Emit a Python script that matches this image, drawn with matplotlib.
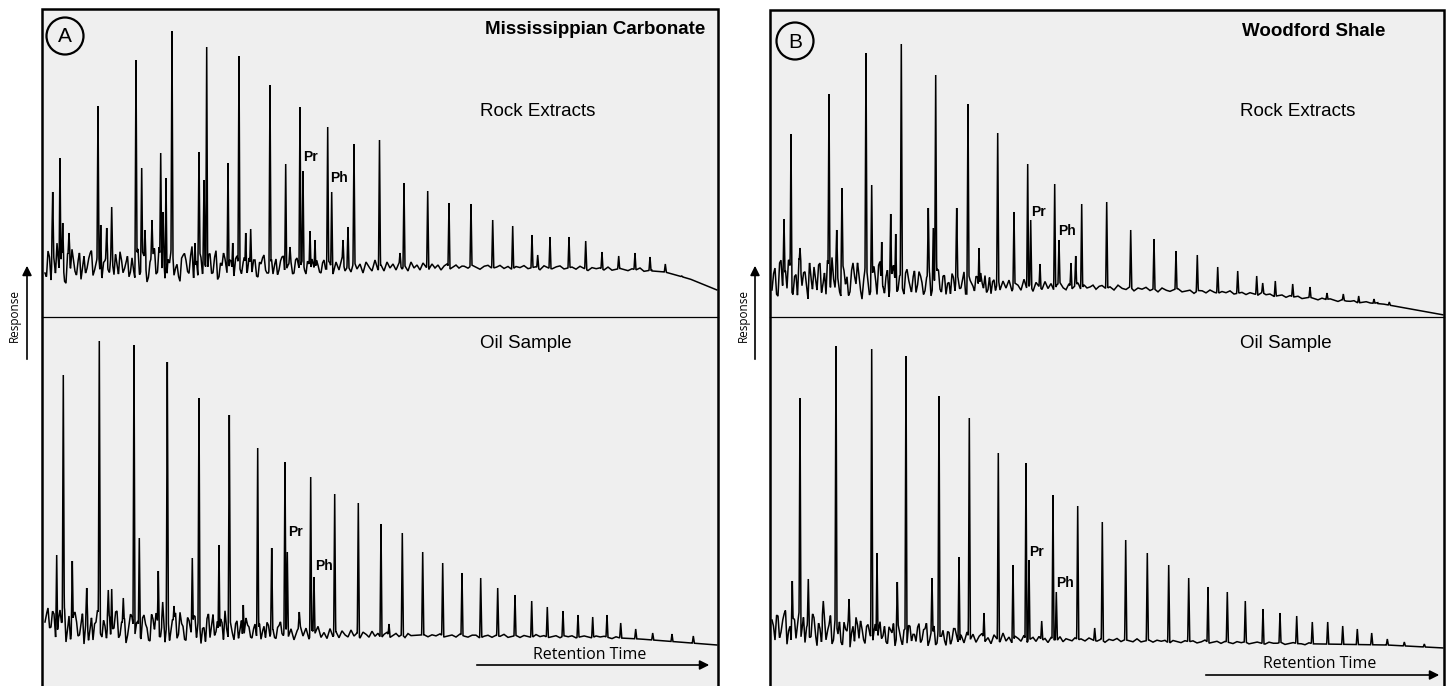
import numpy as np
import matplotlib
matplotlib.use('Agg')
import matplotlib.pyplot as plt
from matplotlib.patches import Rectangle, Circle

W, H = 1452, 686
NOISE_STEP = 3.0
TAIL_STEP = 4.0

# ---------------- A : Mississippian Carbonate, rock extracts ----------------
a_rock_base_x = [45, 250, 450, 570, 640, 665, 690, 717]
a_rock_base_r = [52, 50, 50, 49, 47, 45, 38, 27]
a_rock_noise_x0 = 45
a_rock_noise = [-8, 14, -15, 6, 22, -12, 3, -18, 10,
                16, -6, 4, -14, 9, -3, 12, -10, 2, 7, -12, 5, -4, 11, -9, 1, 14, -7, 3, -11,
                8, -13, 17, -5, 10, -16, 4, 12, -8, 19, -3, -12, 7, 15, -9, 2, -15, 11, 6, -7,
                20, -4, -11, 9, 3, -14, 13, -6, 16, -10, 1, 8, -12,
                6, -9, 11, -2, 4, -8, 9, -5, 7, -10, 3, 12, -6, 1, -7, 8, -3, 10, -8, 2, 5, -6, 9,
                -4, 6, -7, 3, 8, -5, 2, -6, 7, -2, 4, -7, 5, -3, 9, -4, 1, -5, 6, -2, 3, -6, 5, 0,
                -4, 7, -3,
                2, -4, 5, -1, 3, -3, 4, -2, 1, -4, 5, -1, 2, -3, 4, 0, -2, 3, -1, 2, -3, 1, 3, -2,
                0, 2, -1, 1]
# in-between wiggles, half a step to the right of the ones above
a_rock_noise_mid = [-12, 8, 18, -9, 2, 15, -16, 12, -4,
                    5, -10, 13, -2, -8, 6, 15, -5, 9, -13, 3, 10, -7, 2, 12, -9, 6, -3, 10, -6,
                    -4, 12, -9, 14, 2, -11, 9, 18, -6, 5, 11, -14, 3, 17, -2, -10, 8, 13, -5, 10,
                    -12, 6, 15, -8, 1, 12, -7, 9, -13, 4, 14, -3, 7,
                    -5, 8, 3, -7, 10, -4, 2, 7, -9, 5, 9, -3, -6, 8, 2, -8, 6, 11, -2, 4, -7, 7, 1,
                    5, -3, 6, -4, 2, 7, -5, 4, -2, 6]
a_rock_tail_x0 = 464
a_rock_tail = [1, -1, 2, 0, -2, 1, 2, -1, 0, 2, -1, 1, -2, 1, 0, 2, -1, 0, 1, -2, 2, 0, -1, 1,
               2, -1, 0, 1, -1, 2, 0, -2, 1, 0, 1, -1, 2, -1, 0, 1, 0, -1, 1, 0, 2, -1, 0, 1]
a_rock_peak_x = [52.7, 60, 62.7, 69, 98, 100.7, 106.7, 111.7, 136, 141.7, 145, 152, 160.7, 163,
                 166, 172, 195, 199, 204, 206.7, 228, 232.7, 239, 245.7, 250.7, 270, 285.7, 290,
                 300, 303, 310, 315, 327.7, 331.7, 343, 348, 354, 379.5, 400, 404, 427.7, 449,
                 471, 492.7, 512.7, 532, 537.7, 550, 569, 585.7, 602, 618.7, 635, 650, 665.3,
                 681.7]
a_rock_peak_r = [125, 159, 94, 84, 211, 92, 89, 110, 257, 149, 87, 97, 164, 105,
                 139, 286, 74, 165, 137, 270, 154, 74, 261, 84, 88, 232, 153, 70,
                 210, 146, 86, 77, 190, 125, 77, 90, 173, 177, 64, 134, 126, 114,
                 113, 97, 91, 82, 62, 80, 80, 76, 65, 61, 64, 60, 53,
                 41]

# ---------------- A : Mississippian Carbonate, oil sample ----------------
a_oil_base_x = [45, 150, 250, 350, 450, 600, 640, 717]
a_oil_base_r = [54, 54, 53, 51, 50, 49, 47, 41]
a_oil_noise_x0 = 45
a_oil_noise = [10, 24, 5, 18, -6, 22, 12, -10, 16, 3, 20, -4, 8, -12, 14, 2, -8, 10, 18, -5, 6,
               13, -9, 4, 21, -3, 9, -11, 7, 15, -2,
               11, -7, 17, 4, -9, 13, 19, -4, 8, -10, 15, 2, 10, -6, 20, 6, -8, 12, -3, 16, 9,
               -11, 5, 14, -5, 18, 1, -9, 10, 22, -4, 7, -7, 12, 3, -10, 15, 6,
               -5, 9, 2, -6, 7, 11, -3, 4, -5, 8, 0, 10, -4, 5, -6, 3, 9, -2, 6, -5, 4, 1, 8, -3,
               2, -4, 6,
               -2, 3, -3, 4, 0, -2, 5, -1, 2, -3, 3, 1, -2, 4, -1, 2, -3, 1, 3, -2, 0, 2, -1, 1,
               -2, 2, 0]
a_oil_noise_mid = [18, 4, 21, -5, 13, 9, 25, 2, -8, 17, 11, -3, 19, 6, -9, 15, 8, 22, -2, 12,
                   -7, 16, 3, 20, -6, 10, 14, -4, 18, 5, 9,
                   -3, 14, 8, -8, 18, 2, 11, -5, 16, 6, -9, 13, 20, -2, 9, -7, 15, 3, 17, -6, 10,
                   4, -10, 19, 7, -3, 12, 14, -8, 5, 16, -1, 9, -6, 13, 2, 8, -4,
                   4, -3, 10, 2, -5, 8, 3, -4, 6, 12, -2]
a_oil_tail_x0 = 424
a_oil_tail = [1, -1, 1, 0, 2, -1, 0, 1, -1, 2, 0, -1, 1, 1, -2, 0, 1, -1, 1, 0, 2, -1, 0, 1,
              -1, 1, 0, -1, 2, 0, 1, -1, 0, 1, -1, 1, 0, 1, -1, 0, 1, 0, -1, 1, 0, 1, 0, -1,
              1, 0]
a_oil_peak_x = [56.7, 63.3, 72.3, 86.7, 99.3, 108.3, 111.7, 123.3, 134, 139.3, 158.3, 162.7,
                167.3, 174, 192.3, 199, 219, 229.3, 243.3, 257.7, 271.7, 285, 287.3, 299.3,
                310.7, 314, 334.7, 358.3, 381, 389, 402.3, 422.7, 442.7, 462, 480.7, 497.7,
                515, 531.7, 547.3, 563, 578, 592.7, 607, 620.7, 635.7, 652.7, 672, 693.3]
a_oil_peak_r = [131, 311, 125, 98, 345, 96, 97, 88, 341, 148, 115, 84,
                324, 80, 128, 288, 141, 271, 81, 238, 138, 224, 134, 74,
                209, 109, 192, 183, 162, 62, 153, 134, 123, 113, 108, 98,
                91, 85, 79, 75, 71, 69, 71, 63, 57, 53, 52, 50]

# ---------------- B : Woodford Shale, rock extracts ----------------
b_rock_base_x = [772, 900, 1000, 1090, 1257, 1383, 1444]
b_rock_base_r = [37, 34, 31, 30, 23, 13, 2]
b_rock_noise_x0 = 772
b_rock_noise = [-10, 12, -16, 20, 4, -8, 15, -14, 6, 22, -5, 9, -18, 3, 14, -9, 18, -3, -13, 8,
                24, -6, 2, -15, 11, 5, -10, 19, -2, 7, -17, 13, 0, -8, 16, -12, 21, -4, 6, -14,
                10, 3, -7,
                9, -11, 14, -3, 6, -9, 12, 1, -7, 10, -12, 4, 15, -5, 8, -10, 2, 11, -6, 7, -3,
                13, -9, 5, -1, 9, -7, 3, 10, -4, -8, 6, 2,
                -4, 5, -2, 6, -5, 3, 1, -4, 7, -3, 2, -5, 4, 0, -3, 5, -2, 3, -4, 2, 4, -1, -3, 3,
                -2, 1, 4, -3, 2, -1, 0, 2, -2, 1]
b_rock_noise_mid = [6, -14, 17, -6, 10, 21, -11, 4, -16, 13, 8, -4, 19, -9, 2, 16, -12, 9, 22,
                    -7, 3, 14, -10, 18, -3, -14, 11, 6, 20, -8, 1, 15, -13, 9, 4, 17, -6, -11, 13,
                    2, 18, -9, 7,
                    -6, 10, 4, -9, 13, -2, 8, -11, 6, 12, -5, 3, 14, -8, 9, 1, -10, 7, 12, -4, 5,
                    -9, 11, 2, -6, 8, 13, -3, -7, 9, 4, -5, 6]
b_rock_tail_x0 = 1102
b_rock_tail = [2, -1, 1, -2, 3, 0, -1, 2, -2, 1, 0, 2, -1, 1, -2, 2, 0, -1, 1, 2, -1, 0, 1, -2,
               1, 1, -1, 2, 0, -1, 1, 0, 2, -1, 0, 1, -1, 1, 0, -1, 2, 0, 1, -1, 0, 1, -1, 1,
               0, 1, -1, 0, 1, 0, -1, 1, 0, 1, 0, -1, 1, 0, 0, 1, -1, 0, 1, 0, 0, 1]
b_rock_peak_x = [784, 791, 800, 829, 836.7, 842, 866, 871.7, 881.7, 890.7, 895.7, 901.3, 928.3,
                 933.3, 935.7, 956.7, 968, 979, 997.7, 1014, 1027.7, 1030.7, 1040, 1054.7, 1059,
                 1071, 1075.7, 1081.7, 1106.7, 1130.7, 1154, 1176, 1197.3, 1217.7, 1237.7,
                 1256.7, 1262.7, 1275.3, 1292.7, 1310, 1327, 1343.3, 1358.7, 1374, 1389.3]
b_rock_peak_r = [98, 183, 69, 223, 87, 129, 264, 132, 75, 103, 83, 273, 109,
                 89, 242, 109, 213, 69, 184, 105, 153, 97, 53, 133, 77,
                 54, 61, 113, 115, 87, 78, 66, 62, 50, 46,
                 41, 34, 36, 33, 30, 24, 23, 21, 18, 15]

# ---------------- B : Woodford Shale, oil sample ----------------
b_oil_base_x = [772, 900, 1000, 1090, 1257, 1387, 1444]
b_oil_base_r = [52, 50, 47, 46, 43, 41, 38]
b_oil_noise_x0 = 772
b_oil_noise = [14, -6, 18, 2, 20, -10, 8, 16, -4, 22, 5, -8, 12, -2, 17, -11, 6, 19, -5, 10,
               -9, 15, 1, -7, 13, 4, -12, 9, 18, -3,
               7, -8, 11, -2, 5, -9, 14, 0, -6, 9, 3, -10, 12, -4, 6, -7, 10, 2, -5, 13, -3, 8,
               -9, 4, 11, -6, 1, 7, -8, 5, -2, 9, -4,
               3, -5, 6, -2, 4, -4, 2, 5, -3, 1, -5, 4, 0, -3, 6, -2, 2, -4, 3, 1, -2, 4, -3, 0,
               2, -2, 3, -1, 1, -3, 2, 0, -1, 3, -2, 1, 0, -1, 2, 0]
b_oil_noise_mid = [8, 19, -4, 13, 24, 3, -9, 15, 10, -6, 18, 7, -3, 21, 0, 12, -8, 16, 4, 20,
                   -5, 9, 14, -10, 6, 17, 2, -7, 11, 15,
                   -4, 9, 3, -7, 12, 5, -3, 10, -8, 6, 13, -2, 4, -9, 8, 11, -5, 2, 9, -6, 7, 14,
                   -4, 3, -8, 10, 1, -3, 6, -7, 9, 2, -5]
b_oil_tail_x0 = 1081
b_oil_tail = [1, -1, 2, 0, -1, 1, -2, 1, 0, 2, -1, 1, 0, -1, 2, -1, 0, 1, -1, 1, 0, 1, -2, 1,
              0, -1, 1, 0, 1, -1, 0, 2, -1, 0, 1, -1, 1, 0, -1, 1, 0, 1, -1, 0, 1, 0, -1, 1,
              0, 0, 1, -1, 0, 1, 0, 0, -1, 1, 0, 0]
b_oil_peak_x = [792.3, 800, 808.3, 823.3, 836, 849, 871.7, 877, 897.3, 906, 932, 939, 959,
                969.3, 984, 998.3, 1013, 1026, 1029, 1041.7, 1053, 1056.3, 1077.7, 1094.7,
                1102.3, 1125.7, 1147.3, 1168.7, 1188.7, 1208, 1227.3, 1245.3, 1263, 1280,
                1296.7, 1312.3, 1327.7, 1342.7, 1357.3, 1371.7, 1387.3, 1404.3, 1424.3]
b_oil_peak_r = [105, 288, 107, 85, 340, 87, 337, 133, 104, 330, 108, 290, 129,
                268, 73, 233, 121, 223, 126, 65, 191, 94, 180, 58,
                164, 146, 133, 121, 108, 99, 94, 85, 77, 73,
                70, 64, 64, 60, 57, 53, 47, 44, 42]

# labels
pr_ph = {'A_rock': [('Pr', 303, 157), ('Ph', 330, 178)],
         'A_oil': [('Pr', 288, 532), ('Ph', 315, 566)],
         'B_rock': [('Pr', 1031, 212), ('Ph', 1058, 231)],
         'B_oil': [('Pr', 1029, 552), ('Ph', 1056, 583)]}


def chromatogram(ax, x_start, x_end, base_x, base_r, noise_x0, noise, noise_mid,
                 tail_x0, tail, peak_x, peak_r):
    x = np.union1d(np.arange(x_start, x_end, 0.2), peak_x)
    nx = np.concatenate([noise_x0 + NOISE_STEP * np.arange(len(noise)),
                         noise_x0 + NOISE_STEP / 2 + NOISE_STEP * np.arange(len(noise_mid)),
                         tail_x0 + TAIL_STEP * np.arange(len(tail))])
    nv = np.concatenate([noise, noise_mid, tail])
    order = np.argsort(nx)
    floor = np.interp(x, base_x, base_r) + np.interp(x, nx[order], nv[order], left=0, right=0)
    y = floor.copy()
    w = 1.0
    for px, pr in zip(peak_x, peak_r):
        f0 = np.interp(px, x, floor)
        m = np.abs(x - px) < w
        tri = f0 + (pr - f0) * (1 - np.abs(x[m] - px) / w)
        y[m] = np.maximum(y[m], tri)
    ax.plot(x, y, color='black', lw=1.1, solid_joinstyle='miter')


fig = plt.figure(figsize=(W / 100, H / 100), dpi=100)
bg = fig.add_axes([0, 0, 1, 1])
bg.set_xlim(0, W)
bg.set_ylim(H, 0)
bg.axis('off')

frames = [(42, 718, 9), (770, 1444, 10)]
for x0, x1, y0 in frames:
    bg.add_patch(Rectangle((x0, y0), x1 - x0, 720, facecolor='#efefef',
                           edgecolor='black', lw=1.8, zorder=1))
    bg.plot([x0, x1], [317, 317], color='black', lw=0.9, zorder=2)


def data_axes(x0, x1, y0, y1):
    ax = fig.add_axes([x0 / W, (H - y1) / H, (x1 - x0) / W, (y1 - y0) / H])
    ax.set_xlim(x0, x1)
    ax.set_ylim(0, y1 - y0)
    ax.axis('off')
    ax.patch.set_visible(False)
    return ax


ax = data_axes(42, 718, 9, 317)
chromatogram(ax, 45, 717, a_rock_base_x, a_rock_base_r, a_rock_noise_x0, a_rock_noise,
             a_rock_noise_mid, a_rock_tail_x0, a_rock_tail, a_rock_peak_x, a_rock_peak_r)
ax = data_axes(42, 718, 317, 686)
chromatogram(ax, 45, 717, a_oil_base_x, a_oil_base_r, a_oil_noise_x0, a_oil_noise,
             a_oil_noise_mid, a_oil_tail_x0, a_oil_tail, a_oil_peak_x, a_oil_peak_r)
ax = data_axes(770, 1444, 10, 317)
chromatogram(ax, 772, 1443, b_rock_base_x, b_rock_base_r, b_rock_noise_x0, b_rock_noise,
             b_rock_noise_mid, b_rock_tail_x0, b_rock_tail, b_rock_peak_x, b_rock_peak_r)
ax = data_axes(770, 1444, 317, 686)
chromatogram(ax, 772, 1443, b_oil_base_x, b_oil_base_r, b_oil_noise_x0, b_oil_noise,
             b_oil_noise_mid, b_oil_tail_x0, b_oil_tail, b_oil_peak_x, b_oil_peak_r)

# texts
sans = 'Liberation Sans'
for key, items in pr_ph.items():
    for t, x, y in items:
        bg.text(x, y, t, fontsize=10, fontweight='bold', family=sans, ha='left', va='center',
                zorder=5)

bg.text(705, 29, 'Mississippian Carbonate', fontsize=13.5, fontweight='bold', family=sans,
        ha='right', va='center')
bg.text(1314, 32, 'Woodford Shale', fontsize=13.5, fontweight='bold', family=sans,
        ha='center', va='center')
for x in (480, 1240):
    bg.text(x, 111, 'Rock Extracts', fontsize=13.5, family=sans, ha='left', va='center')
    bg.text(x, 344, 'Oil Sample', fontsize=13.5, family=sans, ha='left', va='center')

for (cx, cy), t in [((65, 36), 'A'), ((795, 41), 'B')]:
    bg.add_patch(Circle((cx, cy), 18.5, fill=False, edgecolor='black', lw=1.6, zorder=5))
    bg.text(cx, cy + 1, t, fontsize=15, family=sans, ha='center', va='center', zorder=5)

# axis arrows
arrow = dict(arrowstyle='-|>', color='black', lw=1.2, mutation_scale=14)
for x0, x1, y, tx, ty in [(474, 712, 665, 590, 655), (1203, 1442, 675, 1320, 664)]:
    bg.annotate('', xy=(x1, y), xytext=(x0, y), arrowprops=arrow, zorder=6)
    bg.text(tx, ty, 'Retention Time', fontsize=11.5, family='Open Sans', ha='center',
            va='center', zorder=6)
for ax_x, tx in [(27, 14), (755, 743)]:
    bg.annotate('', xy=(ax_x, 263), xytext=(ax_x, 362), arrowprops=arrow, zorder=6)
    bg.text(tx, 316, 'Response', fontsize=8.5, family='Open Sans', rotation=90,
            ha='center', va='center')

fig.savefig('out.png', dpi=100, facecolor='white')
